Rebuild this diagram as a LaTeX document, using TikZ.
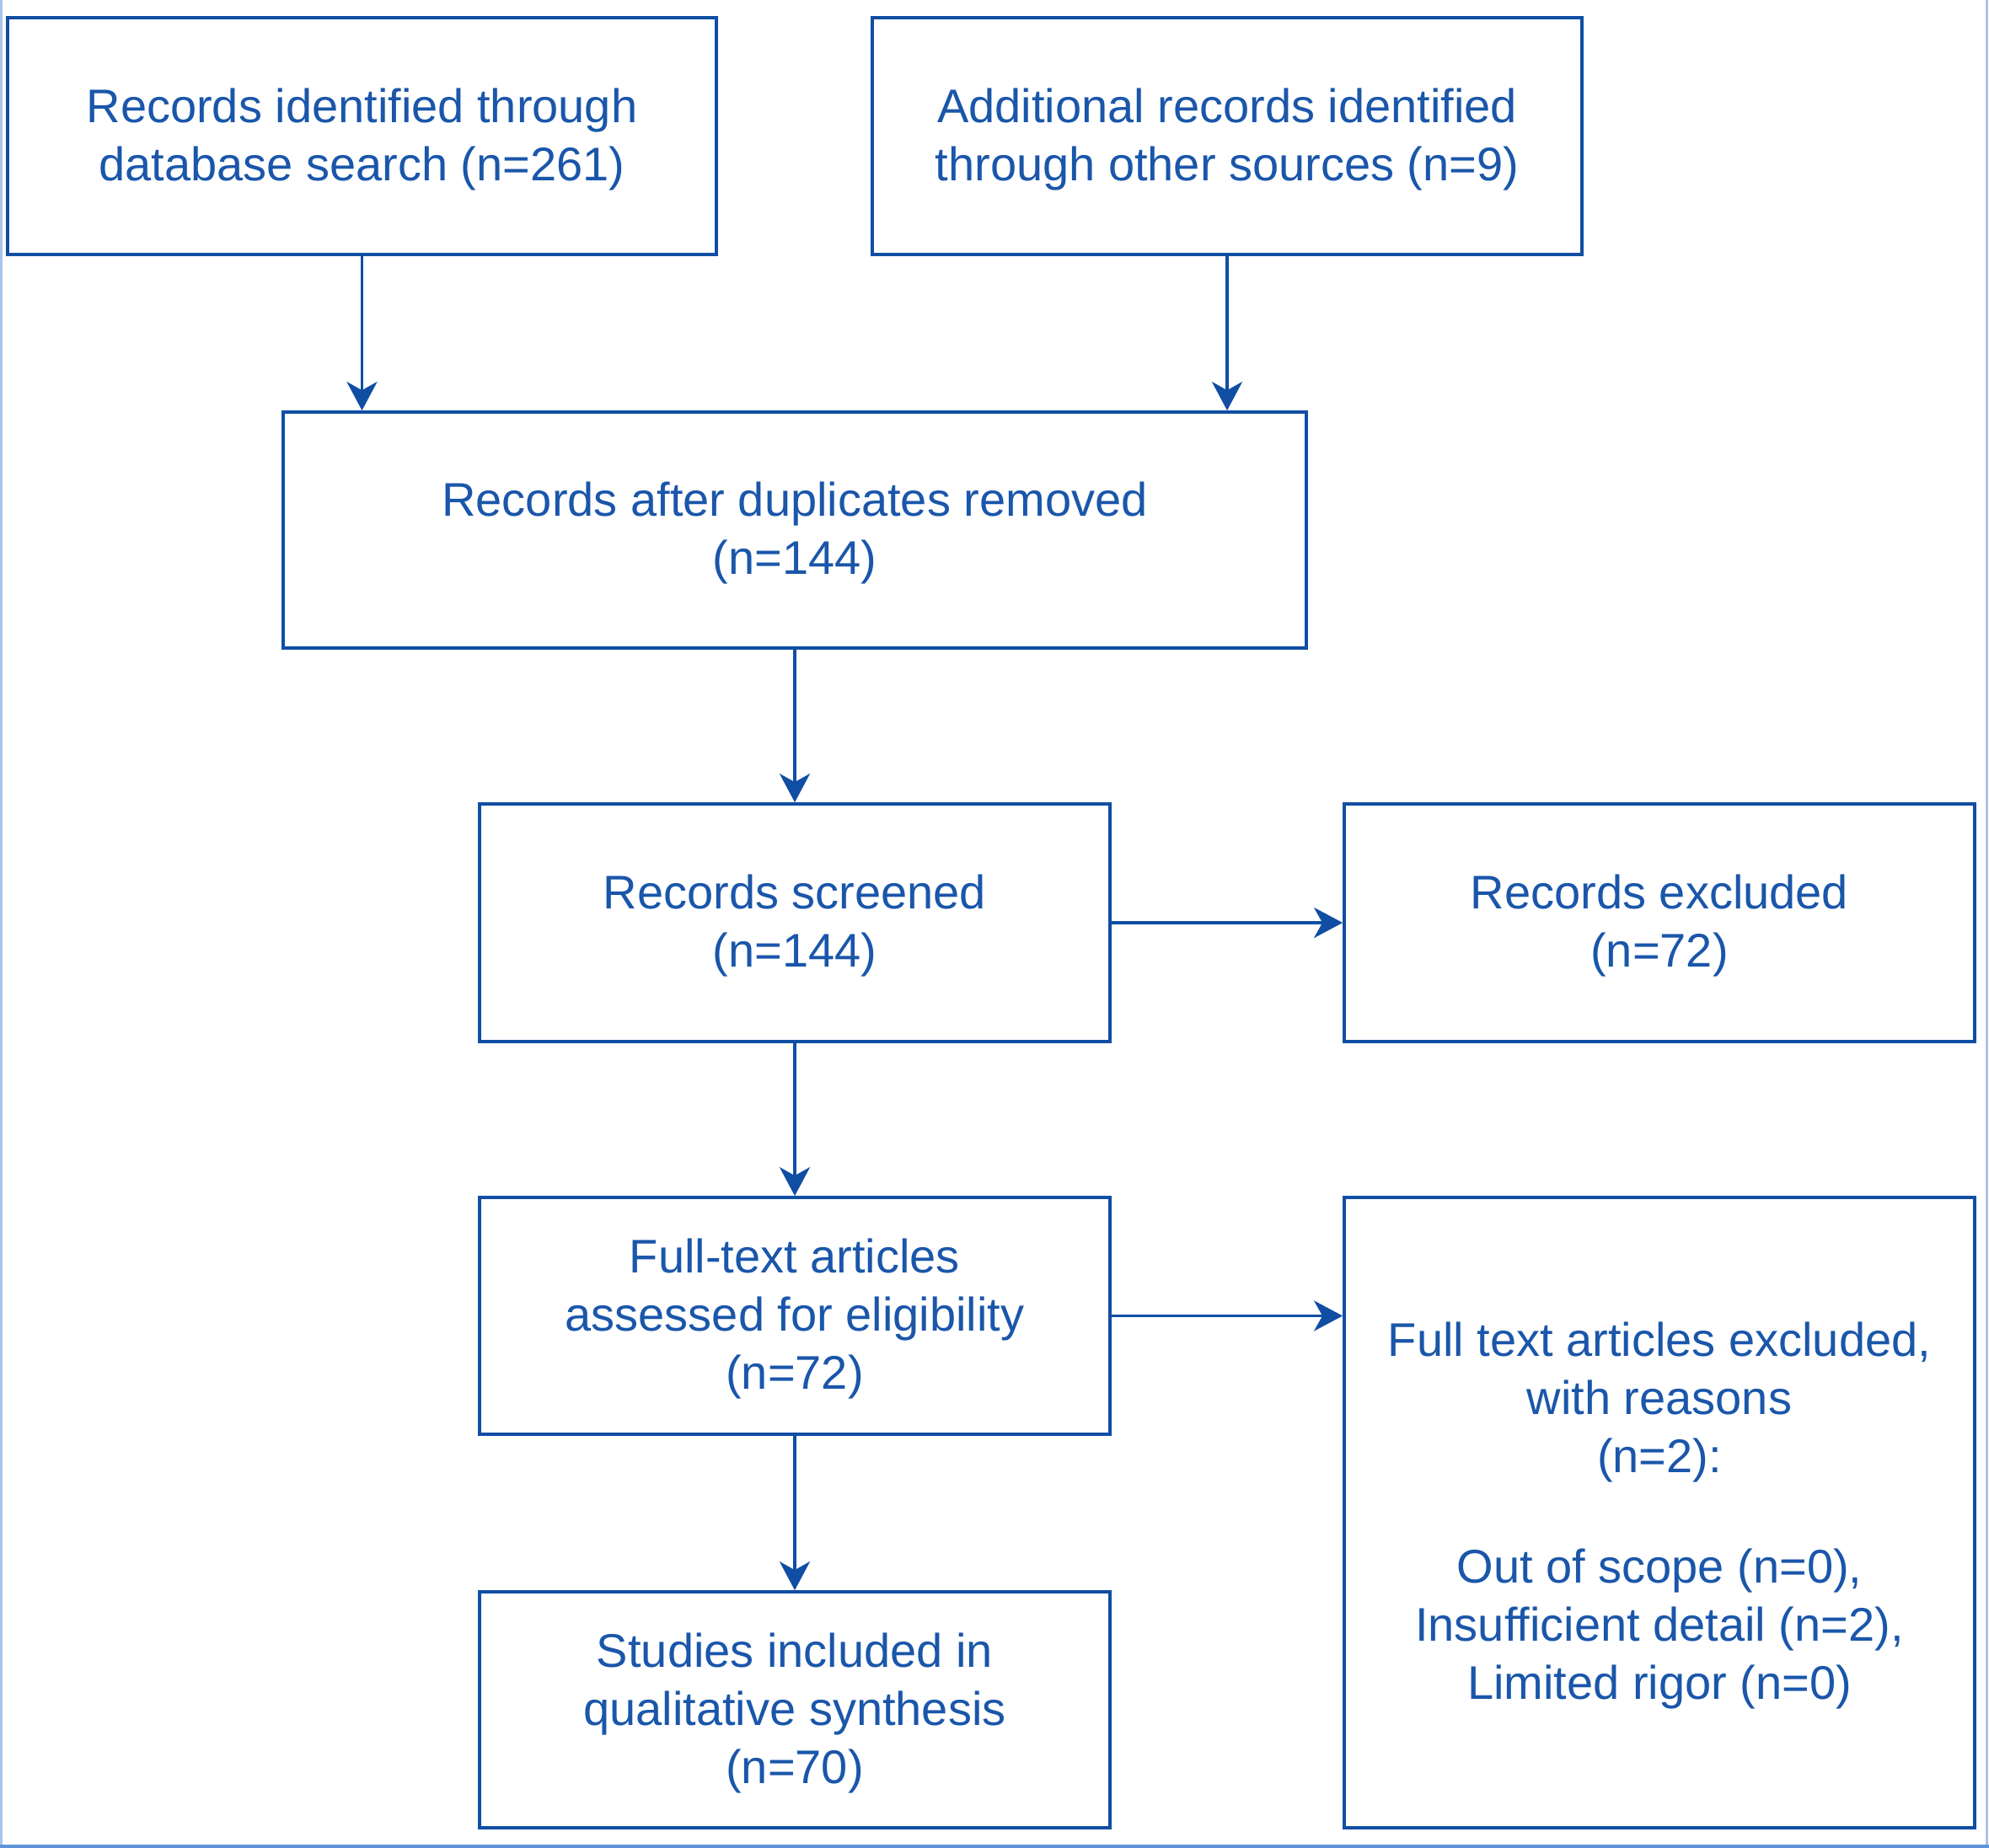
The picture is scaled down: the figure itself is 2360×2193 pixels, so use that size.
\documentclass[tikz,border=0pt]{standalone}
\usepackage{fontspec}
\setmainfont{Liberation Sans}
\usetikzlibrary{arrows.meta}
\definecolor{flowline}{RGB}{16,78,164}
\definecolor{flowtext}{RGB}{26,86,170}
\definecolor{frameleft}{RGB}{168,196,236}
\definecolor{framebottom}{RGB}{94,147,218}
% centred lines of box text, set a little below the middle of the box
\newcommand{\boxlines}[1]{%
  \raisebox{0pt}[\dimexpr\height+4.5pt\relax][\depth]{%
    \begin{tabular}{@{}c@{}}#1\end{tabular}}}
\begin{document}
\begin{tikzpicture}[x=0.5pt,y=-0.5pt,
  flowbox/.style={draw=flowline, line width=1.9pt, rectangle,
    text=flowtext, inner sep=0pt, font=\fontsize{28}{34.5}\selectfont},
  flowarrow/.style={draw=flowline, line width=1.9pt,
    -{Stealth[length=17pt,width=18pt,inset=5pt]}}]
  \useasboundingbox (0,0) rectangle (2360,2193);
  \fill[white] (0,0) rectangle (2360,2193);
  % outer frame
  \draw[frameleft, line width=1.5pt] (1.5,0) -- (1.5,2191);
  \draw[frameleft, line width=1.5pt] (2357.5,0) -- (2357.5,2191);
  \draw[framebottom, line width=2pt] (0,2191) -- (2360,2191);

  % boxes
  \node[flowbox, minimum width=420.5pt, minimum height=140.5pt] (db) at (429.5,161.5)
    {\boxlines{Records identified through\\database search (n=261)}};
  \node[flowbox, minimum width=421pt, minimum height=140.5pt] (other) at (1456,161.5)
    {\boxlines{Additional records identified\\through other sources (n=9)}};
  \node[flowbox, minimum width=607pt, minimum height=140pt] (dup) at (943,629)
    {\boxlines{Records after duplicates removed\\(n=144)}};
  \node[flowbox, minimum width=374pt, minimum height=141pt] (screen) at (943,1095)
    {\boxlines{Records screened\\(n=144)}};
  \node[flowbox, minimum width=374pt, minimum height=141pt] (excl) at (1969,1095)
    {\boxlines{Records excluded\\(n=72)}};
  \node[flowbox, minimum width=374pt, minimum height=140.5pt] (full) at (943,1561.5)
    {\boxlines{Full-text articles\\assessed for eligibility\\(n=72)}};
  \node[flowbox, minimum width=374pt, minimum height=374pt] (fullexcl) at (1969,1795)
    {\boxlines{Full text articles excluded,\\with reasons\\(n=2):\\[31pt]Out of scope (n=0),\\Insufficient detail (n=2),\\Limited rigor (n=0)}};
  \node[flowbox, minimum width=374pt, minimum height=140pt] (incl) at (943,2029)
    {\boxlines{Studies included in\\qualitative synthesis\\(n=70)}};

  % connectors
  \draw[flowarrow] (db.south) -- (db.south |- dup.north);
  \draw[flowarrow] (other.south) -- (other.south |- dup.north);
  \draw[flowarrow] (dup.south) -- (screen.north);
  \draw[flowarrow] (screen.east) -- (excl.west);
  \draw[flowarrow] (screen.south) -- (full.north);
  \draw[flowarrow] (full.east) -- (full.east -| fullexcl.west);
  \draw[flowarrow] (full.south) -- (incl.north);
\end{tikzpicture}
\end{document}
